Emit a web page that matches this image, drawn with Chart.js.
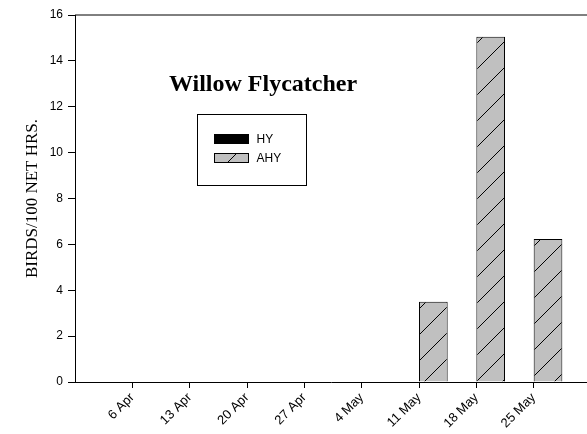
<!DOCTYPE html>
<html>
<head>
<meta charset="utf-8">
<script src="https://cdn.jsdelivr.net/npm/chart.js@4"></script>
<style>
  html, body { margin: 0; padding: 0; background: #fff; overflow: hidden; }
  #wrap { width: 587px; height: 434px; }
</style>
</head>
<body>
<div id="wrap"><canvas id="chart"></canvas></div>
<script>
// banding sessions and capture rates (birds per 100 net hours)
const dates = ["6 Apr", "13 Apr", "20 Apr", "27 Apr", "4 May", "11 May", "18 May", "25 May"]
const hyRates = [0, 0, 0, 0, 0, 0, 0, 0]
const ahyRates = [0, 0, 0, 0, 0, 3.5, 15.05, 6.23]
const yTicks = [0, 2, 4, 6, 8, 10, 12, 14, 16]
const chartTitle = "Willow Flycatcher"
const yTitle = "BIRDS/100 NET HRS."

// gray fill with "/" hatching for the AHY bars
const makeHatch = () => {
  const size = 26
  const tile = document.createElement("canvas")
  tile.width = size
  tile.height = size
  const t = tile.getContext("2d")
  t.fillStyle = "#c0c0c0"
  t.fillRect(0, 0, size, size)
  t.strokeStyle = "#000"
  t.lineWidth = 1
  t.beginPath()
  t.moveTo(-2, size + 2)
  t.lineTo(size + 2, -2)
  t.stroke()
  return t.createPattern(tile, "repeat")
}
const hatch = makeHatch()

const toPoints = (values) => values.map((y, i) => ({ x: i + 1, y }))

// empty sessions get no outline
const outline = (ctx) => (ctx.raw && ctx.raw.y > 0 ? 1 : 0)

// title, top frame line and the boxed legend inside the plot
const decorations = {
  id: "decorations",
  afterDraw: (chart) => {
    const { ctx, chartArea } = chart
    ctx.save()
    ctx.strokeStyle = "#000"
    ctx.lineWidth = 1
    ctx.beginPath()
    ctx.moveTo(chartArea.left, chartArea.top)
    ctx.lineTo(chartArea.right, chartArea.top)
    ctx.stroke()

    ctx.fillStyle = "#000"
    ctx.font = 'bold 24px "Liberation Serif", "Times New Roman", serif'
    ctx.textAlign = "center"
    ctx.textBaseline = "alphabetic"
    ctx.fillText(chartTitle, chartArea.left + 188, chartArea.top + 76)

    const box = { x: chartArea.left + 122.5, y: chartArea.top + 99.5, w: 109, h: 71 }
    ctx.strokeStyle = "#000"
    ctx.strokeRect(box.x, box.y, box.w, box.h)

    ctx.font = '12px "Liberation Sans", Arial, sans-serif'
    ctx.textAlign = "left"
    ctx.textBaseline = "middle"
    chart.data.datasets.forEach((ds, i) => {
      const sx = box.x + 17
      const sy = box.y + 20 + i * 19
      ctx.fillStyle = ds.backgroundColor
      ctx.fillRect(sx, sy, 34, 9)
      ctx.strokeStyle = "#000"
      ctx.strokeRect(sx, sy, 34, 9)
      ctx.fillStyle = "#000"
      ctx.fillText(ds.label, sx + 42, sy + 5)
    })
    ctx.restore()
  },
}

const tickFont = { family: '"Liberation Sans", Arial, sans-serif', size: 12 }

new Chart(document.getElementById("chart"), {
  type: "bar",
  data: {
    datasets: [
      {
        label: "HY",
        data: toPoints(hyRates),
        backgroundColor: "#000",
        borderColor: "#000",
        borderWidth: outline,
      },
      {
        label: "AHY",
        data: toPoints(ahyRates),
        backgroundColor: hatch,
        borderColor: "#000",
        borderWidth: outline,
      },
    ],
  },
  options: {
    animation: false,
    responsive: true,
    maintainAspectRatio: false,
    devicePixelRatio: 1,
    layout: { padding: { top: 15, right: 0, bottom: 0, left: 0 } },
    datasets: {
      bar: { categoryPercentage: 1, barPercentage: 1, inflateAmount: 0 },
    },
    plugins: {
      legend: { display: false },
      tooltip: { enabled: false },
    },
    scales: {
      x: {
        type: "linear",
        min: 0,
        max: 8.93,
        offset: false,
        grid: { drawOnChartArea: false, tickLength: 6, color: "#000", offset: false },
        border: { color: "#000", width: 1 },
        afterBuildTicks: (axis) => {
          axis.ticks = dates.map((d, i) => ({ value: i + 1 }))
        },
        afterFit: (axis) => {
          axis.height = 52
        },
        ticks: {
          autoSkip: false,
          minRotation: 45,
          maxRotation: 45,
          padding: 2,
          color: "#000",
          font: { family: tickFont.family, size: 13 },
          callback: (value) => dates[value - 1] || "",
        },
      },
      y: {
        min: 0,
        max: 16,
        grid: { drawOnChartArea: false, tickLength: 7, color: "#000" },
        border: { color: "#000", width: 1 },
        afterBuildTicks: (axis) => {
          axis.ticks = yTicks.map((v) => ({ value: v }))
        },
        afterFit: (axis) => {
          axis.width = 75
        },
        ticks: { padding: 5, color: "#000", font: tickFont },
        title: {
          display: true,
          text: yTitle,
          color: "#000",
          font: { family: '"Liberation Serif", "Times New Roman", serif', size: 17 },
          padding: { top: 22, bottom: 0 },
        },
      },
    },
  },
  plugins: [decorations],
})
</script>
</body>
</html>
